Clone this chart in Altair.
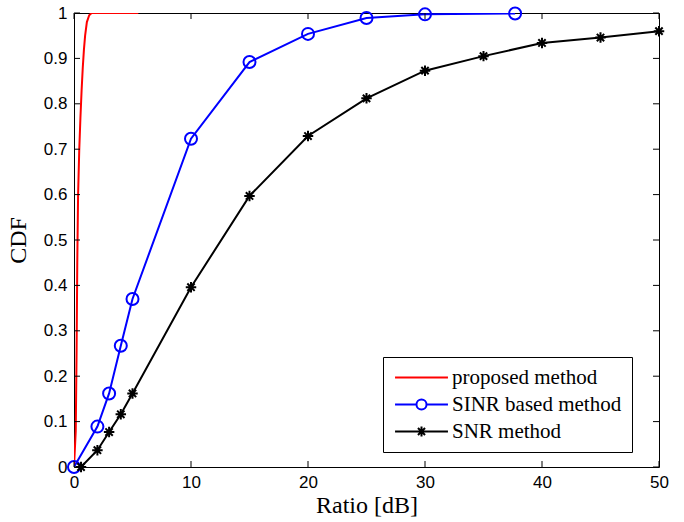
import altair as alt
import pandas as pd

# ---------------- data ----------------
series_names = ["proposed method", "SINR based method", "SNR method"]
series_colors = ["#ff0000", "#0000ff", "#000000"]

proposed_x = [0, 0.15, 0.22, 0.28, 0.35, 0.45, 0.55, 0.65, 0.75, 0.85, 0.95, 1.1, 1.3, 1.5, 5.5]
proposed_y = [0, 0.08, 0.25, 0.45, 0.6, 0.7, 0.77, 0.83, 0.88, 0.92, 0.95, 0.98, 0.995, 1.0, 1.0]

sinr_x = [0, 2, 3, 4, 5, 10, 15, 20, 25, 30, 37.7]
sinr_y = [0, 0.089, 0.162, 0.267, 0.37, 0.723, 0.892, 0.954, 0.989, 0.997, 0.999]

snr_x = [0.6, 2, 3, 4, 5, 10, 15, 20, 25, 30, 35, 40, 45, 50]
snr_y = [0, 0.037, 0.077, 0.116, 0.162, 0.396, 0.597, 0.729, 0.812, 0.873, 0.905, 0.934, 0.946, 0.960]

x_ticks = [0, 10, 20, 30, 40, 50]
y_ticks = [0, 0.1, 0.2, 0.3, 0.4, 0.5, 0.6, 0.7, 0.8, 0.9, 1.0]

# ---------------- tables ----------------
def table(name, xs, ys):
    return pd.DataFrame({"series": name, "x": xs, "y": ys, "idx": range(len(xs))})

df_prop = table(series_names[0], proposed_x, proposed_y)
df_sinr = table(series_names[1], sinr_x, sinr_y)
df_snr = table(series_names[2], snr_x, snr_y)
df = pd.concat([df_prop, df_sinr, df_snr], ignore_index=True)

W, H = 585, 454
TL = 6

xs = alt.Scale(domain=[0, 50], nice=False, zero=False)
ys = alt.Scale(domain=[0, 1], nice=False, zero=False)

STAR = "M-1,0H1M0,-1V1M-0.7,-0.7L0.7,0.7M-0.7,0.7L0.7,-0.7"

# legend glyphs: a long line (5 units each side) with marker in the middle
r = 0.95
d = 0.67
LEG_LINE = "M-5,0H5"
LEG_CIRCLE = f"M-5,0H-{r}M{r},0H5M-{r},0A{r},{r} 0 1,0 {r},0A{r},{r} 0 1,0 -{r},0"
LEG_STAR = f"M-5,0H5M0,-{r}V{r}M-{d},-{d}L{d},{d}M-{d},{d}L{d},-{d}"
legend_shapes = [LEG_LINE, LEG_CIRCLE, LEG_STAR]
SYM = 112  # sqrt(112)/2 * 5 ~ 26.5 px half-length

x_enc = alt.X("x:Q", scale=xs,
              axis=alt.Axis(values=x_ticks, title="Ratio [dB]"))
y_enc = alt.Y("y:Q", scale=ys,
              axis=alt.Axis(values=y_ticks, format="~g", title="CDF"))


def line_layer(data, col):
    return alt.Chart(data).mark_line(strokeWidth=2, clip=True, color=col).encode(
        x=x_enc, y=y_enc, order="idx:Q")


line_prop = line_layer(df_prop, series_colors[0])
line_sinr = line_layer(df_sinr, series_colors[1])
line_snr = line_layer(df_snr, series_colors[2])

circles = alt.Chart(df_sinr).mark_point(
    shape="circle", size=144, filled=False, strokeWidth=2, color=series_colors[1], opacity=1
).encode(x=alt.X("x:Q", scale=xs), y=alt.Y("y:Q", scale=ys))

stars = alt.Chart(df_snr).mark_point(
    shape=STAR, size=110, filled=False, strokeWidth=2, color=series_colors[2], opacity=1
).encode(x=alt.X("x:Q", scale=xs), y=alt.Y("y:Q", scale=ys))

leg = alt.Legend(
    title=None, orient="none", legendX=309, legendY=344,
    strokeColor="black", fillColor="white", padding=10,
    labelFont="Liberation Serif", labelFontSize=21, labelColor="black",
    labelOffset=20, symbolOffset=18, symbolSize=SYM, rowPadding=5,
    symbolStrokeWidth=2, symbolFillColor="transparent", cornerRadius=0,
    labelLimit=400,
)

legend_layer = alt.Chart(df).mark_point(size=0, filled=False, strokeWidth=2, opacity=1).encode(
    x=alt.X("x:Q", scale=xs),
    y=alt.Y("y:Q", scale=ys),
    color=alt.Color("series:N", scale=alt.Scale(domain=series_names, range=series_colors), legend=leg),
    shape=alt.Shape("series:N", scale=alt.Scale(domain=series_names, range=legend_shapes), legend=leg),
)

xt = pd.DataFrame({"x": x_ticks})
yt = pd.DataFrame({"y": y_ticks})
tick_style = dict(color="black", strokeWidth=1)
xt_bot = alt.Chart(xt).mark_rule(**tick_style).encode(
    x=alt.X("x:Q", scale=xs), y=alt.value(H), y2=alt.value(H - TL))
xt_top = alt.Chart(xt).mark_rule(**tick_style).encode(
    x=alt.X("x:Q", scale=xs), y=alt.value(0), y2=alt.value(TL))
yt_left = alt.Chart(yt).mark_rule(**tick_style).encode(
    y=alt.Y("y:Q", scale=ys), x=alt.value(0), x2=alt.value(TL))
yt_right = alt.Chart(yt).mark_rule(**tick_style).encode(
    y=alt.Y("y:Q", scale=ys), x=alt.value(W), x2=alt.value(W - TL))

chart = alt.layer(
    line_prop, line_sinr, line_snr, circles, stars, legend_layer,
    xt_bot, xt_top, yt_left, yt_right
).properties(
    width=W, height=H,
    autosize=alt.AutoSizeParams(type="none"),
    padding={"left": 74, "top": 13, "right": 25, "bottom": 55},
    background="white",
).configure_view(
    stroke="black", strokeWidth=1
).configure_axis(
    domain=False, ticks=False, grid=False,
    labelFont="Liberation Sans", labelFontSize=17, labelColor="black",
    labelPadding=7, labelFlush=False, labelOverlap=False,
    titleFont="Liberation Serif", titleFontSize=24, titleFontWeight="normal",
    titleColor="black",
).configure_axisX(
    titlePadding=3,
).configure_axisY(
    titlePadding=13,
)

chart.save("out.html", embed_options={"renderer": "svg", "actions": False})
